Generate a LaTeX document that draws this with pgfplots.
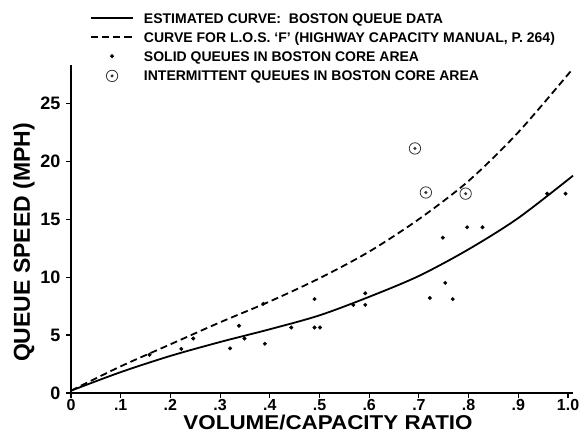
\documentclass[border=0pt]{standalone}
\usepackage{fontspec}
\setmainfont{Liberation Sans}
\usepackage{pgfplots}
\pgfplotsset{compat=1.18}

% circled dot for the intermittent queues
\pgfdeclareplotmark{odot}{%
  \pgfpathcircle{\pgfpointorigin}{\pgfplotmarksize}\pgfusepathqstroke
  \pgfpathcircle{\pgfpointorigin}{0.3\pgfplotmarksize}\pgfusepathqfill}

\begin{document}
\begin{tikzpicture}[x=1pt,y=1pt]
\useasboundingbox (-71,-40) rectangle (515,393);
\begin{axis}[
    at={(0,0)}, anchor=south west,
    scale only axis, width=502pt, height=328pt,
    xmin=0, xmax=1.01, ymin=0, ymax=28.3,
    axis lines*=left,
    axis line style={line width=1.6pt},
    xtick={0,0.1,0.2,0.3,0.4,0.5,0.6,0.7,0.8,0.9,1.0},
    xticklabels={0,.1,.2,.3,.4,.5,.6,.7,.8,.9,1.0},
    ytick={0,5,10,15,20,25},
    yticklabels={0,5,10,15,20,25},
    tick align=outside, major tick length=5pt,
    tick style={black, line width=1.1pt},
    xticklabel style={font=\bfseries\fontsize{16}{16}\selectfont, yshift=2pt},
    yticklabel style={font=\bfseries\fontsize{18}{18}\selectfont, xshift=-2pt},
    xlabel={VOLUME/CAPACITY RATIO},
    ylabel={QUEUE SPEED (MPH)},
    xlabel style={at={(axis description cs:0.512,-0.09)}, anchor=center,
        xscale=1.12, font=\bfseries\fontsize{20}{20}\selectfont},
    ylabel style={at={(axis description cs:-0.094,0.459)}, anchor=center,
        font=\bfseries\fontsize{23}{23}\selectfont},
    clip=false,
    legend cell align=left,
    legend style={at={(axis description cs:0.0378,1.1585)}, anchor=north west,
        draw=none, fill=none, inner sep=0pt, row sep=9pt, column sep=10pt,
        font=\bfseries\fontsize{14}{14}\selectfont,
        nodes={inner sep=0pt, text height=10pt, text depth=0pt}},
    legend image code/.code={%
        \draw[mark repeat=2, mark phase=2, #1]
            plot coordinates {(0pt,0pt) (21pt,0pt) (42pt,0pt)};},
]

\addplot[black, line width=1.8pt, smooth, tension=0.5] coordinates {
    (0,0.2)(0.1,1.8)(0.2,3.2)(0.3,4.4)(0.4,5.5)(0.5,6.7)(0.6,8.3)
    (0.7,10.1)(0.8,12.4)(0.9,15.1)(1.01,18.75)
};
\addlegendentry{ESTIMATED CURVE:\ \ BOSTON QUEUE DATA}

\addplot[black, line width=1.8pt, dash pattern=on 7pt off 4pt, smooth, tension=0.5] coordinates {
    (0,0.2)(0.1,2.3)(0.2,4.2)(0.3,6.1)(0.4,7.9)(0.5,9.9)(0.6,12.2)
    (0.7,15.0)(0.8,18.3)(0.9,22.5)(1.01,28.0)
};
\addlegendentry{CURVE FOR L.O.S. `F' (HIGHWAY CAPACITY MANUAL, P. 264)}

\addplot[only marks, mark=*, mark size=1.8pt, black] coordinates {
    (0.158,3.3)(0.222,3.8)(0.246,4.7)(0.320,3.85)(0.338,5.8)(0.349,4.7)
    (0.387,7.7)(0.390,4.25)(0.443,5.65)(0.490,8.1)(0.490,5.65)(0.501,5.65)
    (0.568,7.6)(0.592,8.6)(0.592,7.6)
    (0.722,8.2)(0.748,13.4)(0.753,9.5)(0.768,8.1)(0.797,14.3)(0.828,14.3)
    (0.958,17.2)(0.995,17.2)
};
\addlegendentry{SOLID QUEUES IN BOSTON CORE AREA}

\addplot[only marks, mark=odot, mark size=5.7pt, black!80, line width=0.8pt] coordinates {
    (0.692,21.1)(0.714,17.3)(0.794,17.2)
};
\addlegendentry{INTERMITTENT QUEUES IN BOSTON CORE AREA}

\end{axis}
\end{tikzpicture}
\end{document}
